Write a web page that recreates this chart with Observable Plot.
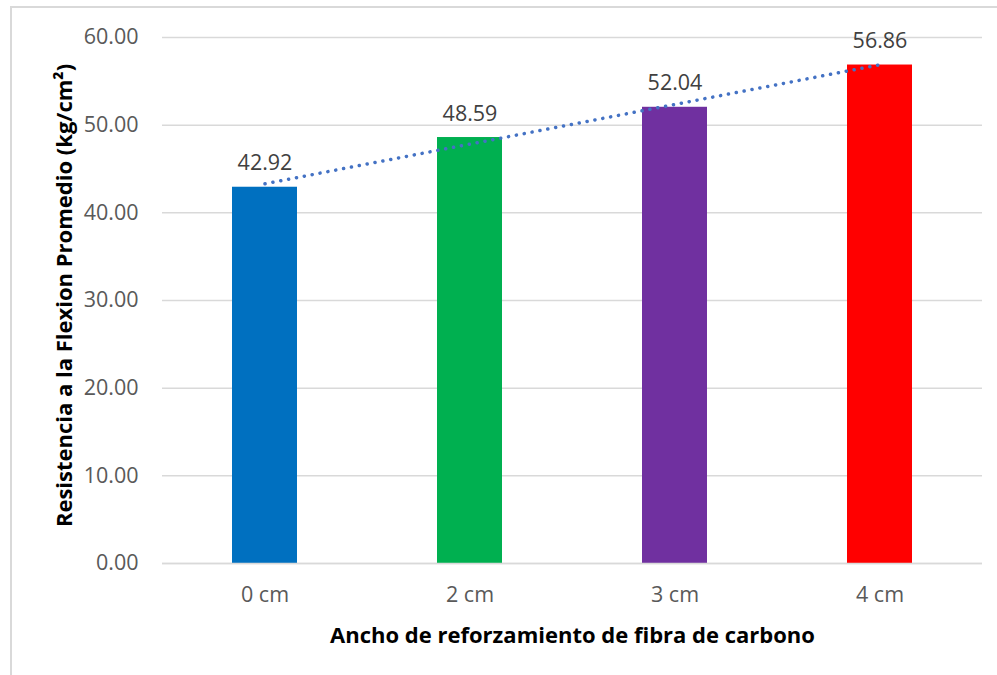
<!DOCTYPE html>
<html>
<head>
<meta charset="utf-8">
<script src="https://cdn.jsdelivr.net/npm/d3@7"></script>
<script src="https://cdn.jsdelivr.net/npm/@observablehq/plot@0.6"></script>
<style>
  body { margin: 0; background: #fff; overflow: hidden; }
  #chart { position: relative; width: 997px; height: 675px; }
  #chart svg { position: absolute; left: 0; top: 0; }
  #frame { position: absolute; left: 10px; top: 6px; width: 1000px; height: 700px;
           border: 2px solid #d9d9d9; box-sizing: border-box; z-index: 1; pointer-events: none; }
</style>
</head>
<body>
<div id="chart"><div id="frame"></div></div>
<script>
// Flexural strength by carbon-fibre reinforcement width
const categories = ["0 cm", "2 cm", "3 cm", "4 cm"];
const values = [42.92, 48.59, 52.04, 56.86];
const colors = ["#0070C0", "#00B050", "#7030A0", "#FF0000"];
const yTicks = [0, 10, 20, 30, 40, 50, 60];
const xTitle = "Ancho de reforzamiento de fibra de carbono";
const yTitle = "Resistencia a la Flexion Promedio (kg/cm²)";

const rows = categories.map((cat, i) => ({cat, value: values[i], color: colors[i]}));

// Linear trendline fitted over category positions 1..n
const xs = values.map((_, i) => i + 1);
const mx = d3.mean(xs), my = d3.mean(values);
const slope = d3.sum(xs, (x, i) => (x - mx) * (values[i] - my)) / d3.sum(xs, (x) => (x - mx) ** 2);
const trend = categories.map((cat, i) => ({cat, value: my + slope * (xs[i] - mx)}));

const fmt = d3.format(".2f");

const chart = Plot.plot({
  width: 997,
  height: 675,
  marginLeft: 162,
  marginRight: 15,
  marginTop: 37,
  marginBottom: 112,
  style: {fontFamily: "'Open Sans', sans-serif", fontSize: "21.5px", background: "transparent"},
  x: {domain: categories, paddingInner: 0.683, paddingOuter: 0.3415, label: null},
  y: {domain: [0, 60], label: null},
  marks: [
    Plot.gridY(yTicks, {stroke: "#d9d9d9", strokeOpacity: 1, strokeWidth: 1.5}),
    Plot.axisY(yTicks, {tickSize: 0, tickPadding: 24, tickFormat: fmt, fill: "#595959", label: null}),
    Plot.axisX({tickSize: 0, tickPadding: 23, fill: "#595959", label: null}),
    Plot.barY(rows, {x: "cat", y: "value", fill: "color"}),
    Plot.ruleY([0], {stroke: "#d9d9d9", strokeWidth: 1.5}),
    Plot.line(trend, {x: "cat", y: "value", stroke: "#4472C4", strokeWidth: 3.5,
                      strokeDasharray: "0.1 7.9", strokeLinecap: "round"}),
    Plot.text(rows, {x: "cat", y: "value", text: (d) => fmt(d.value), lineAnchor: "bottom",
                     dy: -17, fill: "#404040"}),
    Plot.text([xTitle], {frameAnchor: "bottom", textAnchor: "middle", lineAnchor: "middle", dy: 72,
                         fontWeight: "bold", fontSize: 22, fill: "#000"}),
    Plot.text([yTitle], {frameAnchor: "left", textAnchor: "middle", lineAnchor: "middle",
                         rotate: -90, dx: -98, dy: -5,
                         fontWeight: "bold", fontSize: 22, fill: "#000"})
  ]
});

document.getElementById("chart").prepend(chart);
</script>
</body>
</html>
